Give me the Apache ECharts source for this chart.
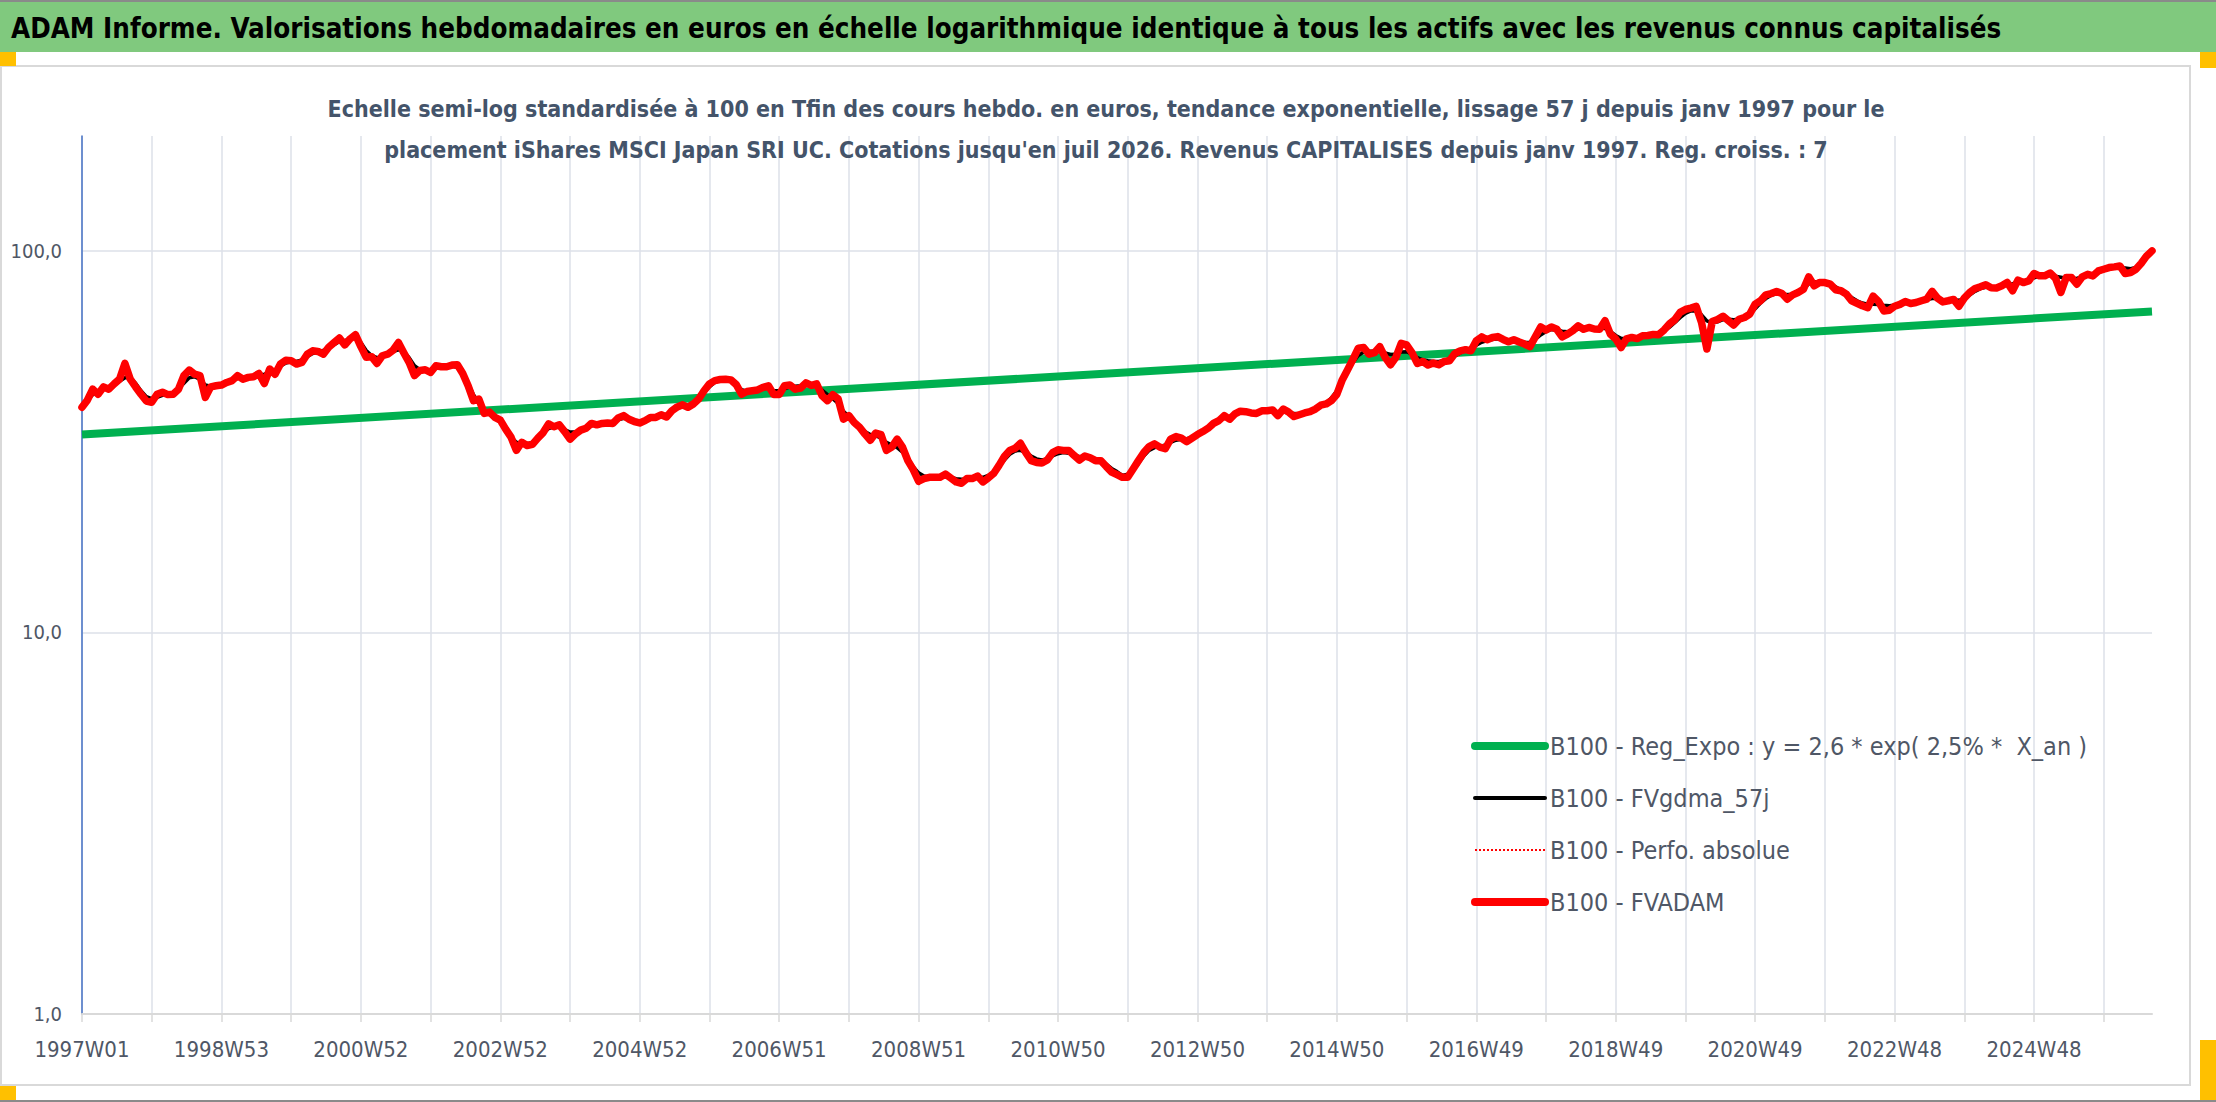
<!DOCTYPE html>
<html>
<head>
<meta charset="utf-8">
<script src="https://cdn.jsdelivr.net/npm/echarts@6/dist/echarts.min.js"></script>
<style>
  html, body { margin: 0; padding: 0; background: #fff; }
  #main { width: 2216px; height: 1102px; }
</style>
</head>
<body>
<div id="main"></div>
<script>
// valeurs, un point toutes les 4 semaines depuis 1997W01
// (une ligne = 13 points = 52 semaines)
const fvadam = [
  38.9, 40.6, 43.4, 42.1, 44.0, 43.4, 44.8, 46.1, 50.7, 46.1, 44.0, 42.1, 40.4,
  40.1, 42.1, 42.6, 42.0, 42.1, 43.4, 47.1, 48.7, 47.5, 47.1, 41.3, 44.0, 44.3,
  44.5, 45.2, 45.7, 47.1, 46.1, 46.6, 46.8, 47.7, 44.9, 49.0, 47.5, 50.5, 51.7,
  51.5, 50.5, 51.0, 53.6, 54.7, 54.5, 53.6, 55.9, 57.5, 59.1, 56.7, 58.8, 60.3,
  56.1, 52.6, 52.8, 50.7, 53.1, 53.6, 54.9, 57.5, 54.1, 51.0, 47.1, 48.6, 48.8,
  48.0, 50.0, 49.7, 49.7, 50.2, 50.3, 47.7, 44.3, 40.5, 40.9, 37.5, 37.8, 36.6,
  36.0, 34.1, 32.5, 30.0, 31.5, 30.9, 31.1, 32.3, 33.4, 35.2, 34.6, 35.0, 33.6,
  32.1, 33.1, 33.9, 34.3, 35.3, 35.0, 35.3, 35.4, 35.3, 36.5, 37.0, 36.2, 35.7,
  35.4, 35.9, 36.6, 36.6, 37.2, 36.7, 38.1, 39.0, 39.5, 38.9, 39.7, 40.9, 43.0,
  44.8, 45.7, 46.0, 46.1, 45.9, 44.6, 42.1, 42.8, 43.0, 43.2, 43.9, 44.3, 42.0,
  42.0, 44.3, 44.5, 43.4, 43.7, 45.1, 44.4, 44.8, 41.7, 40.5, 42.0, 40.9, 36.2,
  37.0, 35.5, 34.5, 33.1, 31.9, 33.3, 33.0, 30.0, 30.6, 32.1, 30.6, 28.2, 26.7,
  24.9, 25.3, 25.5, 25.5, 25.5, 26.0, 25.4, 24.8, 24.6, 25.3, 25.3, 25.7, 24.8,
  25.4, 26.1, 27.4, 28.9, 30.0, 30.4, 31.3, 29.6, 28.2, 27.9, 27.8, 28.3, 29.6,
  30.1, 30.0, 30.0, 29.1, 28.3, 29.0, 28.7, 28.2, 28.2, 27.2, 26.3, 25.9, 25.5,
  25.5, 26.8, 28.2, 29.6, 30.7, 31.2, 30.6, 30.3, 32.1, 32.6, 32.3, 31.6, 32.3,
  33.0, 33.6, 34.3, 35.3, 35.9, 37.0, 36.2, 37.4, 38.0, 37.9, 37.6, 37.5, 38.1,
  38.1, 38.3, 37.0, 38.5, 37.8, 36.8, 37.2, 37.6, 37.9, 38.5, 39.4, 39.7, 40.5,
  42.1, 45.9, 48.8, 52.0, 55.6, 55.8, 53.6, 54.1, 56.1, 52.6, 50.3, 52.6, 57.2,
  56.7, 54.1, 50.7, 51.3, 50.2, 50.8, 50.3, 51.3, 51.5, 53.8, 54.7, 55.1, 54.7,
  58.1, 59.5, 58.5, 59.3, 59.6, 58.6, 57.8, 58.5, 57.7, 57.0, 56.1, 59.5, 63.2,
  62.0, 63.2, 62.3, 59.5, 60.5, 61.8, 63.6, 62.3, 63.0, 62.4, 62.3, 65.6, 60.5,
  58.8, 55.8, 58.8, 59.3, 58.9, 59.9, 60.0, 60.4, 60.3, 62.0, 64.3, 66.0, 69.0,
  70.2, 70.8, 71.5, 64.9, 55.3, 65.3, 66.1, 67.4, 65.6, 63.9, 66.2, 66.9, 68.3,
  72.5, 74.0, 76.7, 77.3, 78.3, 77.3, 74.7, 76.7, 77.8, 79.3, 85.5, 81.0, 82.6,
  82.6, 81.8, 79.1, 78.6, 77.0, 74.0, 72.9, 71.8, 71.0, 76.1, 73.7, 69.6, 69.9,
  71.6, 72.4, 73.7, 72.8, 73.2, 74.0, 74.7, 78.3, 75.2, 73.5, 74.0, 74.6, 71.6,
  75.2, 77.8, 79.7, 80.5, 81.5, 80.0, 79.9, 81.0, 82.6, 78.6, 83.8, 82.6, 83.4,
  87.2, 86.0, 86.0, 87.5, 84.8, 77.8, 85.1, 85.1, 81.8, 85.5, 86.8, 86.0, 88.6,
  89.5, 90.4, 90.8, 91.3, 87.2, 87.7, 89.5, 92.8, 97.0, 100.0
];

const fvgdma57 = [
  39.5, 40.5, 42.0, 42.8, 43.5, 44.0, 44.6, 45.5, 46.5, 46.5, 45.0, 43.0, 41.5,
  41.0, 41.3, 41.8, 42.2, 42.5, 43.5, 45.0, 46.5, 46.8, 46.0, 44.5, 44.2, 44.5,
  44.8, 45.2, 45.8, 46.3, 46.5, 46.7, 47.0, 47.3, 47.5, 48.0, 48.8, 49.8, 50.8,
  51.2, 51.3, 51.8, 52.8, 53.8, 54.3, 54.8, 55.7, 56.8, 57.8, 58.2, 58.8, 59.0,
  57.5, 54.8, 53.2, 52.5, 52.8, 53.5, 54.5, 55.0, 54.5, 52.5, 50.0, 48.8, 48.5,
  48.5, 49.3, 49.7, 49.8, 49.8, 49.5, 48.0, 45.0, 42.0, 40.0, 38.3, 37.3, 36.5,
  35.5, 34.0, 32.5, 31.5, 31.2, 31.2, 31.5, 32.3, 33.3, 34.2, 34.6, 34.5, 34.0,
  33.5, 33.5, 33.9, 34.3, 34.8, 35.1, 35.3, 35.4, 35.6, 36.1, 36.4, 36.3, 36.0,
  35.8, 35.9, 36.3, 36.7, 37.0, 37.3, 37.9, 38.6, 39.2, 39.5, 40.0, 41.0, 42.5,
  44.0, 45.2, 45.8, 45.9, 45.6, 44.5, 43.3, 42.9, 43.0, 43.2, 43.5, 43.7, 43.0,
  43.0, 43.5, 44.0, 44.2, 44.3, 44.5, 44.5, 44.2, 43.2, 42.0, 41.0, 39.8, 38.0,
  36.8, 35.6, 34.6, 33.6, 33.0, 32.8, 32.3, 31.5, 31.0, 30.5, 29.7, 28.5, 27.2,
  26.2, 25.7, 25.5, 25.5, 25.5, 25.6, 25.5, 25.3, 25.2, 25.2, 25.3, 25.4, 25.5,
  25.8, 26.3, 27.2, 28.3, 29.3, 29.9, 30.0, 29.6, 29.0, 28.5, 28.3, 28.5, 29.0,
  29.4, 29.6, 29.5, 29.2, 28.9, 28.8, 28.7, 28.5, 28.2, 27.6, 26.9, 26.4, 25.8,
  26.0, 26.6, 27.7, 29.0, 30.0, 30.5, 30.7, 31.0, 31.5, 31.9, 32.1, 32.2, 32.5,
  33.0, 33.6, 34.3, 35.1, 35.8, 36.4, 36.8, 37.2, 37.6, 37.8, 37.8, 37.8, 37.9,
  38.0, 38.0, 37.9, 37.8, 37.6, 37.5, 37.4, 37.6, 38.0, 38.5, 39.2, 40.0, 41.2,
  43.0, 45.5, 48.3, 51.0, 53.2, 54.3, 54.6, 54.6, 54.5, 54.0, 53.5, 53.6, 54.3,
  54.4, 53.6, 52.5, 51.8, 51.5, 51.3, 51.3, 51.6, 52.2, 53.0, 54.0, 55.0, 55.6,
  56.6, 57.6, 58.2, 58.6, 58.8, 58.7, 58.4, 58.1, 57.7, 57.5, 57.6, 58.6, 60.2,
  61.5, 62.2, 62.1, 61.6, 61.4, 61.8, 62.3, 62.6, 62.7, 62.7, 62.8, 62.6, 61.5,
  60.0, 59.0, 58.8, 59.0, 59.3, 59.7, 60.0, 60.3, 60.7, 61.6, 63.0, 64.8, 66.8,
  68.6, 69.6, 69.6, 68.0, 65.5, 64.7, 65.2, 66.0, 66.2, 66.0, 66.2, 66.8, 68.2,
  70.5, 73.0, 75.0, 76.5, 77.3, 77.2, 76.8, 76.8, 77.6, 79.3, 82.0, 83.0, 83.0,
  82.5, 81.8, 80.5, 79.0, 77.3, 75.5, 74.0, 73.0, 72.5, 72.5, 72.3, 72.0, 71.8,
  72.0, 72.4, 72.8, 73.0, 73.3, 73.8, 74.5, 75.0, 75.0, 74.6, 74.4, 74.3, 74.2,
  75.0, 76.6, 78.3, 79.6, 80.3, 80.4, 80.4, 80.8, 81.5, 82.0, 82.6, 83.2, 84.0,
  85.0, 85.8, 86.2, 86.2, 85.8, 85.3, 84.8, 84.6, 84.8, 85.3, 86.0, 86.8, 87.8,
  88.8, 89.7, 90.3, 90.6, 90.2, 89.8, 90.4, 92.5, 95.8, 99.0
];

// la perfo. absolue se confond avec FVADAM sur le graphique
const perfoAbsolue = fvadam;

// droite de regression : valeur au debut et a la fin de la periode
const regExpo = [33.0, 69.4];

const seriesNames = [
  'B100 - Reg_Expo : y = 2,6 * exp( 2,5% *  X_an )',
  'B100 - FVgdma_57j',
  'B100 - Perfo. absolue',
  'B100 - FVADAM'
];

const mainTitle = 'ADAM Informe. Valorisations hebdomadaires en euros en échelle logarithmique identique à tous les actifs avec les revenus connus capitalisés';
const subTitle = [
  'Echelle semi-log standardisée à 100 en Tfin des cours hebdo. en euros, tendance exponentielle, lissage 57 j depuis janv 1997 pour le',
  "placement iShares MSCI Japan SRI UC. Cotations jusqu'en juil 2026. Revenus CAPITALISES depuis janv 1997. Reg. croiss. : 7"
];

// semaines ISO, pas de 4 semaines a partir du lundi 30/12/1996 (1997W01)
function isoWeek(ms) {
  const thu = new Date(ms + 3 * 86400000);
  const y = thu.getUTCFullYear();
  const w = Math.floor((thu - Date.UTC(y, 0, 1)) / 86400000 / 7) + 1;
  return y + 'W' + String(w).padStart(2, '0');
}
const weeks = [];
for (let i = 0; i < fvadam.length; i++) {
  weeks.push(isoWeek(Date.UTC(1996, 11, 30) + i * 28 * 86400000));
}

const FONT = "'Liberation Sans Narrow', 'DejaVu Sans Condensed', 'Noto Sans', sans-serif";
const TXT = '#4f5766';
const GRID = '#dde1e8';

var myChart = echarts.init(document.getElementById('main'), null, { renderer: 'svg' });
myChart.setOption({
  animation: false,
  backgroundColor: '#ffffff',
  textStyle: { fontFamily: FONT },
  graphic: [
    { type: 'rect', z: 0, shape: { x: 0, y: 0, width: 2216, height: 2 }, style: { fill: '#8a8a8a' } },
    { type: 'rect', z: 0, shape: { x: 0, y: 2, width: 2216, height: 50 }, style: { fill: '#80c97e' } },
    { type: 'rect', z: 0, shape: { x: 1, y: 66, width: 2189, height: 1019 }, style: { fill: 'none', stroke: '#d9d9d9', lineWidth: 2 } },
    { type: 'rect', z: 0, shape: { x: 0, y: 1100, width: 2216, height: 2 }, style: { fill: '#8a8a8a' } },
    { type: 'rect', z: 1, shape: { x: 0, y: 52, width: 16, height: 14 }, style: { fill: '#ffc000' } },
    { type: 'rect', z: 1, shape: { x: 2200, y: 52, width: 16, height: 16 }, style: { fill: '#ffc000' } },
    { type: 'rect', z: 1, shape: { x: 2200, y: 1040, width: 16, height: 60 }, style: { fill: '#ffc000' } },
    { type: 'rect', z: 1, shape: { x: 0, y: 1086, width: 16, height: 14 }, style: { fill: '#ffc000' } }
  ],
  title: [
    {
      text: mainTitle, left: 11, top: 10, padding: 0,
      textStyle: { fontFamily: FONT, fontSize: 27.5, fontWeight: 'bold', color: '#000000', lineHeight: 36 }
    },
    {
      text: subTitle.join('\n'), left: 1106, top: 88, padding: 0, textAlign: 'center',
      textStyle: { fontFamily: FONT, fontSize: 23, fontWeight: 'bold', color: '#44546a', lineHeight: 41 }
    }
  ],
  legend: {
    orient: 'vertical', left: 1466, top: 726,
    itemWidth: 70, itemHeight: 14, itemGap: 22,
    itemStyle: { opacity: 0 },
    data: [
      { name: seriesNames[0], lineStyle: { width: 8, cap: 'round', color: '#00b050' } },
      { name: seriesNames[1], lineStyle: { width: 4, cap: 'round', color: '#000000' } },
      { name: seriesNames[2], lineStyle: { width: 2, type: 'dotted', color: '#ff0000' } },
      { name: seriesNames[3], lineStyle: { width: 8, cap: 'round', color: '#ff0000' } }
    ],
    textStyle: { fontFamily: FONT, fontSize: 25, color: TXT, lineHeight: 30 }
  },
  grid: { left: 82, top: 136, width: 2070, height: 878 },
  xAxis: {
    type: 'category', data: weeks, boundaryGap: false,
    axisLine: { lineStyle: { color: '#d9d9d9', width: 2 } },
    axisTick: { show: true, interval: 12, length: 8, lineStyle: { color: '#d9d9d9', width: 1.5 } },
    axisLabel: { interval: 25, margin: 24, fontSize: 22, color: TXT, fontFamily: FONT },
    splitLine: { show: true, interval: 12, lineStyle: { color: GRID, width: 1.5 } }
  },
  yAxis: {
    type: 'log', logBase: 10, min: 1, max: 200,
    axisLine: { show: true, lineStyle: { color: '#4472c4', width: 1.5 } },
    axisTick: { show: false },
    axisLabel: {
      fontSize: 20, color: TXT, margin: 20, fontFamily: FONT, showMaxLabel: false,
      formatter: v => Number(v).toFixed(1).replace('.', ',')
    },
    splitLine: { show: true, showMaxLine: false, lineStyle: { color: GRID, width: 1.5 } }
  },
  series: [
    {
      name: seriesNames[0], type: 'line', symbol: 'none',
      data: [[0, regExpo[0]], [weeks.length - 1, regExpo[1]]],
      lineStyle: { color: '#00b050', width: 8 }, itemStyle: { color: '#00b050' }
    },
    {
      name: seriesNames[1], type: 'line', symbol: 'none', data: fvgdma57,
      lineStyle: { color: '#000000', width: 3.5, join: 'round' }, itemStyle: { color: '#000000' }
    },
    {
      name: seriesNames[2], type: 'line', symbol: 'none', data: perfoAbsolue,
      lineStyle: { color: '#ff0000', width: 2, type: 'dotted' }, itemStyle: { color: '#ff0000' }
    },
    {
      name: seriesNames[3], type: 'line', symbol: 'none', data: fvadam,
      lineStyle: { color: '#ff0000', width: 7.5, join: 'round', cap: 'round' }, itemStyle: { color: '#ff0000' }
    }
  ]
});
</script>
</body>
</html>
